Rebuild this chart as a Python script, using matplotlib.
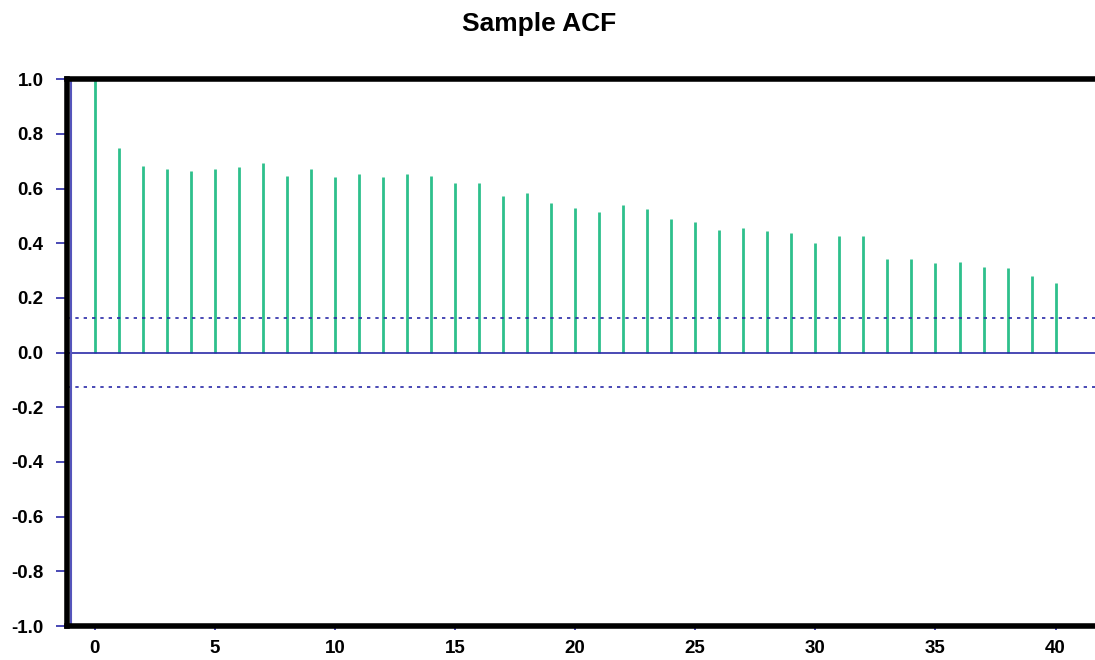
import numpy as np
import matplotlib.pyplot as plt

plt.rcParams['font.family'] = ['Liberation Sans', 'DejaVu Sans']

# sample autocorrelation, lags 0..40
lags = list(range(0, 41))
acf = [1.0, 0.748, 0.683, 0.673, 0.665, 0.673, 0.678, 0.693, 0.646, 0.670,
       0.641, 0.655, 0.641, 0.655, 0.645, 0.619, 0.619, 0.572, 0.582, 0.549,
       0.530, 0.516, 0.540, 0.526, 0.488, 0.478, 0.447, 0.456, 0.443, 0.438,
       0.401, 0.428, 0.428, 0.344, 0.344, 0.326, 0.331, 0.313, 0.308, 0.281,
       0.253]
bound = 0.125
yticks = [-1.0, -0.8, -0.6, -0.4, -0.2, 0.0, 0.2, 0.4, 0.6, 0.8, 1.0]
xticks = [0, 5, 10, 15, 20, 25, 30, 35, 40]

fig = plt.figure(figsize=(10.95, 6.6), dpi=100)
# right edge of the frame runs off the canvas
ax = fig.add_axes([0.0612, 0.0515, 0.950, 0.8285])

green = '#2ec08c'
blue = '#2a2aa8'

ax.vlines(lags, 0, acf, colors=green, linewidth=2)
ax.axhline(0, color=blue, linewidth=1.2)
ax.axhline(bound, color=blue, linewidth=1.2, linestyle=(0, (2, 3)))
ax.axhline(-bound, color=blue, linewidth=1.2, linestyle=(0, (2, 3)))
ax.axvline(-1, color='#5555bb', linewidth=1.5)

ax.set_xlim(-1.15, 42.15)
ax.set_ylim(-1.0, 1.0)

for s in ax.spines.values():
    s.set_linewidth(4)
    s.set_color('black')

ax.set_yticks(yticks)
ax.set_yticklabels(['%.1f' % v for v in yticks], fontsize=13.5, fontweight='bold')
ax.set_xticks(xticks)
ax.set_xticklabels([str(v) for v in xticks], fontsize=13.5, fontweight='bold')
ax.tick_params(axis='y', colors=blue, length=8, width=1.2, pad=9, labelcolor='black')
ax.tick_params(axis='x', colors=blue, length=3, width=1.2, pad=7, labelcolor='black')

fig.text(539 / 1095, 1 - 24 / 660, 'Sample ACF', ha='center', va='center',
         fontsize=19, fontweight='bold')

fig.savefig('out.png', dpi=100)
